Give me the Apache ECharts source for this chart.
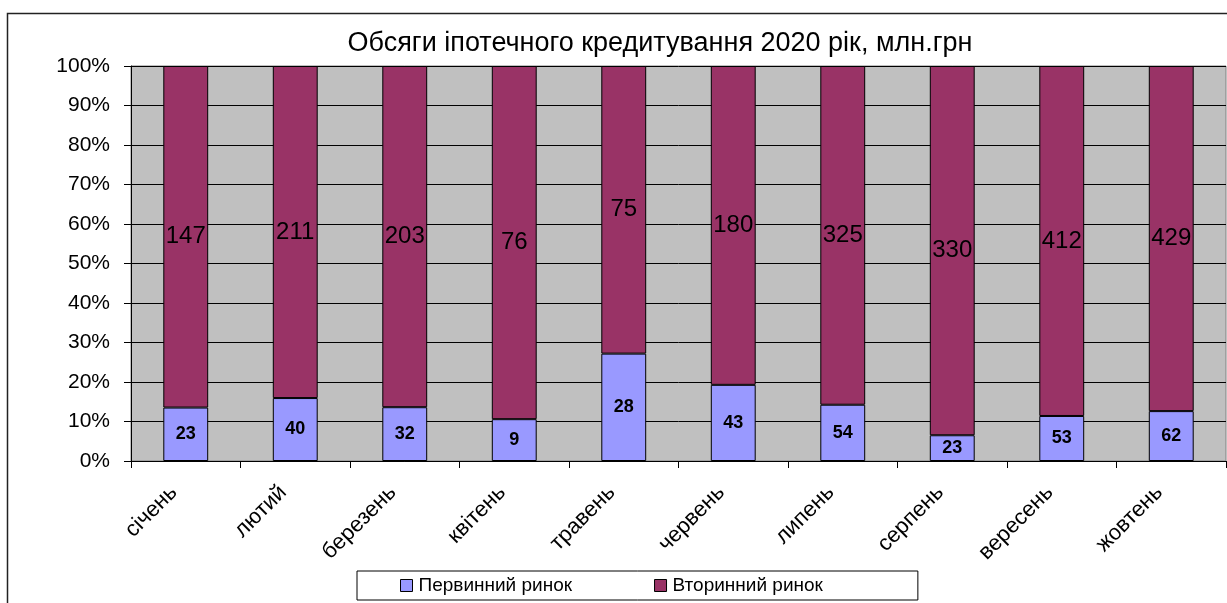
<!DOCTYPE html>
<html>
<head>
<meta charset="utf-8">
<script src="https://cdn.jsdelivr.net/npm/echarts@6/dist/echarts.min.js"></script>
<style>
  html, body { margin: 0; padding: 0; background: #fff; }
  #chart { width: 1227px; height: 603px; }
</style>
</head>
<body>
<div id="chart"></div>
<script>
// Mortgage lending volumes by month, 2020 (UAH mln)
const months = ['січень', 'лютий', 'березень', 'квітень', 'травень', 'червень', 'липень', 'серпень', 'вересень', 'жовтень'];
const primaryMarket = [23, 40, 32, 9, 28, 43, 54, 23, 53, 62];
const secondaryMarket = [147, 211, 203, 76, 75, 180, 325, 330, 412, 429];
const yTicks = [0, 10, 20, 30, 40, 50, 60, 70, 80, 90, 100];

const FONT = '"Liberation Sans", Arial, sans-serif';

// 100% stacked shares; labels keep the absolute amounts
const totals = months.map((_, i) => primaryMarket[i] + secondaryMarket[i]);
const primaryShare = primaryMarket.map((v, i) => ({ value: v / totals[i] * 100, raw: v }));
const secondaryShare = secondaryMarket.map((v, i) => ({ value: v / totals[i] * 100, raw: v }));

const chart = echarts.init(document.getElementById('chart'), null, { renderer: 'canvas' });

chart.setOption({
  animation: false,
  backgroundColor: '#ffffff',
  textStyle: { fontFamily: FONT, color: '#000' },
  title: {
    text: 'Обсяги іпотечного кредитування 2020 рік, млн.грн',
    left: 655,
    textAlign: 'center',
    top: 25,
    textStyle: { fontFamily: FONT, fontSize: 27, fontWeight: 'normal', color: '#000' }
  },
  legend: {
    left: 357,
    top: 571,
    padding: [5, 95, 5, 43],
    itemGap: 82,
    itemWidth: 12,
    itemHeight: 12,
    icon: 'rect',
    borderColor: '#000',
    borderWidth: 1,
    backgroundColor: '#fff',
    textStyle: { fontFamily: FONT, fontSize: 19, color: '#000', padding: [0, 0, 0, 1] },
    itemStyle: { borderColor: '#000', borderWidth: 1 },
    data: ['Первинний ринок', 'Вторинний ринок']
  },
  grid: {
    left: 131,
    right: 1,
    top: 66,
    bottom: 142,
    show: true,
    backgroundColor: '#C0C0C0',
    borderColor: '#808080',
    borderWidth: 1
  },
  xAxis: {
    type: 'category',
    data: months,
    boundaryGap: true,
    axisLine: { show: true, lineStyle: { color: '#000', width: 1 } },
    axisTick: { show: true, alignWithLabel: false, length: 7, lineStyle: { color: '#000' } },
    axisLabel: {
      rotate: 45,
      interval: 0,
      margin: 16,
      padding: [0, 17, 0, 0],
      fontFamily: FONT,
      fontSize: 22,
      color: '#000'
    },
    splitLine: { show: false }
  },
  yAxis: {
    type: 'value',
    min: yTicks[0],
    max: yTicks[yTicks.length - 1],
    interval: 10,
    axisLine: { show: true, lineStyle: { color: '#000', width: 1 } },
    axisTick: { show: true, length: 7, lineStyle: { color: '#000' } },
    axisLabel: {
      formatter: '{value}%',
      margin: 21,
      fontFamily: FONT,
      fontSize: 21,
      color: '#000'
    },
    splitLine: { show: true, lineStyle: { color: '#000', width: 1 } }
  },
  series: [
    {
      name: 'Первинний ринок',
      type: 'bar',
      stack: 'share',
      barWidth: '41%',
      data: primaryShare,
      itemStyle: { color: '#9999FF', borderColor: '#000', borderWidth: 1 },
      label: {
        show: true,
        position: 'inside',
        formatter: p => p.data.raw,
        fontFamily: FONT,
        fontSize: 18,
        fontWeight: 'bold',
        color: '#000'
      }
    },
    {
      name: 'Вторинний ринок',
      type: 'bar',
      stack: 'share',
      barWidth: '41%',
      data: secondaryShare,
      itemStyle: { color: '#993366', borderColor: '#000', borderWidth: 1 },
      label: {
        show: true,
        position: 'inside',
        formatter: p => p.data.raw,
        fontFamily: FONT,
        fontSize: 24,
        color: '#000'
      }
    }
  ],
  graphic: [
    {
      type: 'rect',
      silent: true,
      z: -10,
      shape: { x: 7.5, y: 13.5, width: 1240, height: 620 },
      style: { fill: 'none', stroke: '#222', lineWidth: 1.5 }
    }
  ]
});
</script>
</body>
</html>
